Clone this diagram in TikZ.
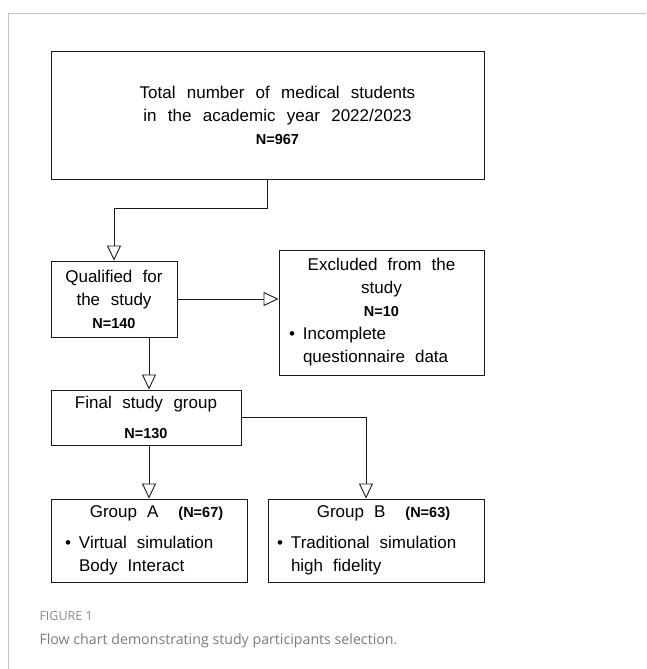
\documentclass[tikz,border=0pt]{standalone}
\usepackage{fontspec}
\setmainfont{Liberation Sans}
\newfontfamily\cadfont{Liberation Sans}
\newfontfamily\capfont{Open Sans}
\usetikzlibrary{arrows.meta,positioning}
\definecolor{ink}{HTML}{1A1A1A}
\definecolor{framegray}{HTML}{C4C4C4}
\definecolor{capgray}{HTML}{7A7A7A}
\definecolor{figgray}{HTML}{8A8A8A}
\newcommand{\nval}[1]{{\fontsize{14.5}{17}\selectfont\bfseries #1}}
\newcommand{\itm}{\makebox[14pt][l]{\textbullet}}
\newcommand{\itmcont}{\hspace*{14pt}}
\newcommand{\sh}{\hspace*{20pt}}

\begin{document}
\begin{tikzpicture}[x=1pt,y=-1pt,font=\cadfont\fontsize{17}{23}\selectfont,
  >={Triangle[open,length=15pt,width=14pt]},
  bx/.style n args={2}{draw=ink,line width=0.9pt,inner sep=0pt,
             minimum width=#1,minimum height=#2,
             execute at begin node={\spaceskip=10pt plus 1pt\relax}},
  arr/.style={->,draw=ink,line width=0.9pt}]
  \useasboundingbox (0,0) rectangle (646,669);
  % page frame
  \draw[framegray,line width=1pt] (8,669) |- (646,14);
  \node[bx={433pt}{128pt},text width=380pt,align=center] (top) at (267.5,115)
    {\sh Total number of medical students\\\sh in the academic year 2022/2023\\\sh\nval{N=967}};
  \node[bx={126pt}{76pt},text width=120pt,align=center] (qual) at (114,299)
    {Qualified for\\the study\\\nval{N=140}};
  \node[bx={205pt}{125pt},text width=185pt] (excl) at (381.5,312.5)
    {{\centering Excluded from the\\study\\\nval{N=10}\par}
     \raggedright\itm Incomplete\\\itmcont questionnaire data};
  \node[bx={190pt}{55pt},text width=180pt,align=center] (final) at (146,417.5)
    {Final study group\\[7pt]\nval{N=130}};
  \node[bx={196pt}{83pt},text width=168pt] (grpA) at (149,540.5)
    {{\centering\hspace*{15pt}Group A\hspace{20pt}\nval{(N=67)}\par}\vspace{8pt}
     \raggedright\itm Virtual simulation\\\itmcont Body Interact};
  \node[bx={216pt}{83pt},text width=198pt] (grpB) at (376,540.5)
    {{\centering\hspace*{15pt}Group B\hspace{20pt}\nval{(N=63)}\par}\vspace{8pt}
     \raggedright\itm Traditional simulation\\\itmcont high fidelity};
  \draw[arr] (top.south) -- ++(0,29) -| (qual.north);
  \draw[arr] (qual.east) -- (qual.east -| excl.west);
  \foreach \a/\b in {qual/final,final/grpA}{\draw[arr] (\a.south -| grpA.north) -- (\b.north -| grpA.north);}
  \draw[arr] (final.east) -| ([xshift=-10pt]grpB.north);
  % caption
  \node[anchor=base west,font=\capfont\fontsize{12.5}{14}\selectfont,text=figgray] (fig) at (36,620) {FIGURE 1};
  \node[anchor=base west,font=\capfont\fontsize{14.2}{17}\selectfont,text=capgray] (cap) at (36,644)
    {Flow chart demonstrating study participants selection.};
\end{tikzpicture}
\end{document}
